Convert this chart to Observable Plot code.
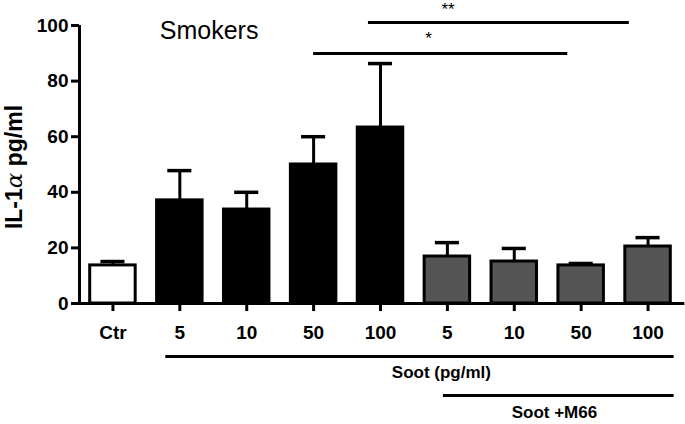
<!DOCTYPE html>
<html>
<head>
<meta charset="utf-8">
<script src="https://cdn.jsdelivr.net/npm/d3@7"></script>
<script src="https://cdn.jsdelivr.net/npm/@observablehq/plot@0.6"></script>
<style>
  html, body { margin: 0; padding: 0; background: #fff; }
  #chart svg { display: block; }
</style>
</head>
<body>
<div id="chart"></div>
<script>
const categories = ["Ctr", "5", "10", "50", "100", "5", "10", "50", "100"];
const groups = ["ctrl", "soot", "soot", "soot", "soot", "m66", "m66", "m66", "m66"];
const means = [13.7, 37.1, 33.8, 50, 63.3, 16.9, 15.1, 13.7, 20.5];
const upper = [15.1, 47.8, 40, 60, 86.3, 21.9, 19.8, 14.4, 23.7];
const yTicks = [0, 20, 40, 60, 80, 100];

const fills = {ctrl: "#ffffff", soot: "#000000", m66: "#555555"};
const data = categories.map((c, i) => ({i, label: c, group: groups[i], mean: means[i], up: upper[i]}));

// significance brackets (in category index units)
const sig = [
  {x1: 3.0, x2: 6.8, y: 89.9, label: "*", ly: 95.2, lx: 4.72},
  {x1: 3.82, x2: 7.72, y: 101.1, label: "**", ly: 105.6, lx: 5.01}
];
// group underlines below axis
const groupLines = [
  {x1: 0.79, x2: 8.39, y: -19.1, label: "Soot (pg/ml)", ly: -25, lx: 4.91},
  {x1: 4.94, x2: 8.39, y: -33.1, label: "Soot +M66", ly: -39.4, lx: 6.6}
];

const half = 0.34;
const cap = 0.18;
const font = "Liberation Sans, Arial, sans-serif";

const chart = Plot.plot({
  width: 685,
  height: 424,
  marginLeft: 79,
  marginRight: 4,
  marginTop: 25,
  marginBottom: 121,
  style: {fontFamily: font, background: "#fff"},
  x: {type: "linear", domain: [-0.5, 8.5], axis: null},
  y: {type: "linear", domain: [0, 100], axis: null},
  marks: [
    // error bars
    Plot.ruleX(data, {x: "i", y1: "mean", y2: "up", stroke: "#000", strokeWidth: 3}),
    Plot.ruleY(data, {y: "up", x1: d => d.i - cap, x2: d => d.i + cap, stroke: "#000", strokeWidth: 3.5}),
    // bars
    Plot.rectY(data, {
      x1: d => d.i - half, x2: d => d.i + half, y1: 0, y2: "mean",
      fill: d => fills[d.group], stroke: "#000", strokeWidth: 3, strokeLinejoin: "miter"
    }),
    // axes lines
    Plot.ruleX([-0.5], {x: d => d, y1: 0, y2: 100, stroke: "#000", strokeWidth: 3}),
    Plot.ruleY([0], {y: d => d, x1: -0.5, x2: 8.55, stroke: "#000", strokeWidth: 3}),
    // y ticks
    Plot.ruleY(yTicks, {y: d => d, x1: -0.62, x2: -0.5, stroke: "#000", strokeWidth: 3}),
    Plot.text(yTicks, {y: d => d, x: -0.5, dx: -11, text: d => String(d), textAnchor: "end",
      fontSize: 19, fontWeight: "bold", fill: "#000"}),
    // x ticks
    Plot.ruleX(data, {x: "i", y1: 0, y2: -2.9, stroke: "#000", strokeWidth: 3}),
    Plot.text(data, {x: "i", y: -10.5, text: "label", fontSize: 19, fontWeight: "bold", fill: "#000"}),
    // significance
    Plot.ruleY(sig, {y: "y", x1: "x1", x2: "x2", stroke: "#000", strokeWidth: 3}),
    Plot.text(sig, {x: "lx", y: "ly", text: "label", fontSize: 17, fill: "#000"}),
    // group lines
    Plot.ruleY(groupLines, {y: "y", x1: "x1", x2: "x2", stroke: "#000", strokeWidth: 3}),
    Plot.text(groupLines, {x: "lx", y: "ly", text: "label", fontSize: 17, fontWeight: "bold", fill: "#000"}),
    // title
    Plot.text(["Smokers"], {x: 0.70, y: 98.2, text: d => d, textAnchor: "start", fontSize: 25, fill: "#000"})
  ]
});

// y-axis label with Greek alpha
const svg = d3.select(chart);
const lbl = svg.append("text")
  .attr("transform", "translate(22,167) rotate(-90)")
  .attr("text-anchor", "middle")
  .attr("font-family", font)
  .attr("font-size", 23)
  .attr("font-weight", "bold")
  .attr("fill", "#000");
lbl.append("tspan").text("IL-1");
lbl.append("tspan").attr("font-family", "DejaVu Serif, serif").attr("font-weight", "normal").attr("font-style", "italic").text("α");
lbl.append("tspan").text(" pg/ml");

document.getElementById("chart").appendChild(chart);
</script>
</body>
</html>
